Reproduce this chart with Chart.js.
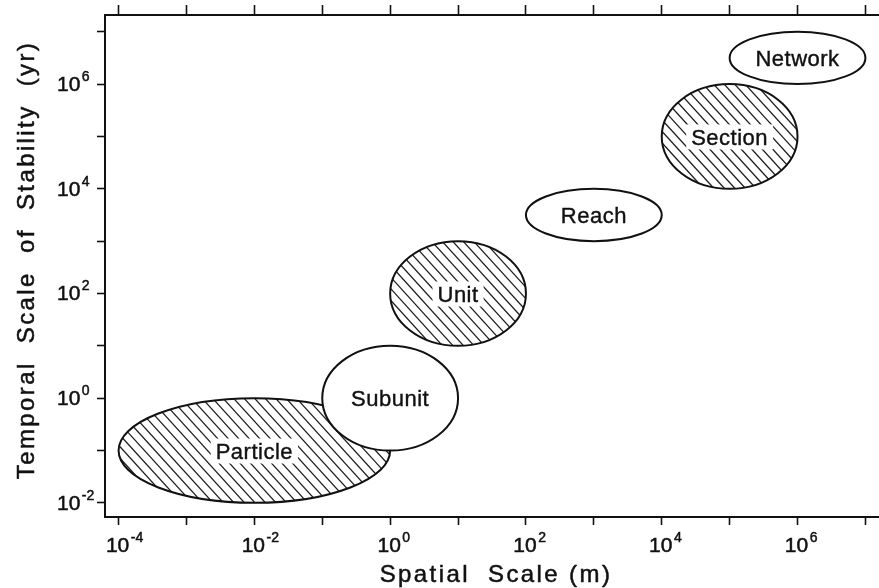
<!DOCTYPE html>
<html lang="en">
<head>
    <meta charset="UTF-8">
    <title>Spatial and Temporal Scale</title>
    <script src="https://cdn.jsdelivr.net/npm/chart.js"></script>
    <style>
        body {
            margin: 0;
            background: #ffffff;
        }
        #wrap {
            width: 879px;
            height: 588px;
        }
    </style>
</head>
<body>

<div id="wrap">
    <canvas id="scaleChart" width="879" height="588"></canvas>
</div>

<script>
    // zones, bounds in metres (space) and years (time)
    const zoneNames = ['Particle', 'Subunit', 'Unit', 'Reach', 'Section', 'Network'];
    const spaceMin = [1e-4, 1e-1, 1e0, 1e2, 1e4, 1e5];
    const spaceMax = [1e0, 1e1, 1e2, 1e4, 1e6, 1e7];
    const timeMin = [1e-2, 1e-1, 1e1, 1e3, 1e4, 1e6];
    const timeMax = [1e0, 1e1, 1e3, 1e4, 1e6, 1e7];
    const hatched = [true, false, true, false, true, false];

    // decade ticks and labelled exponents
    const xDecades = [-4, -3, -2, -1, 0, 1, 2, 3, 4, 5, 6, 7];
    const yDecades = [-2, -1, 0, 1, 2, 3, 4, 5, 6, 7];
    const xTickExps = [-4, -2, 0, 2, 4, 6];
    const yTickExps = [-2, 0, 2, 4, 6];

    const xTitle = 'Spatial  Scale (m)';
    const yTitle = 'Temporal  Scale  of  Stability  (yr)';

    const ink = '#111111';
    const font = '"Liberation Sans", Arial, Helvetica, sans-serif';

    function decadeTicks(list) {
        return function(scale) {
            scale.ticks = list.map(function(e) { return { value: Math.pow(10, e) }; });
        };
    }

    function axisGrid(len) {
        return {
            drawOnChartArea: false,
            drawTicks: true,
            tickLength: len,
            tickWidth: 1.6,
            tickColor: ink
        };
    }

    // text with a thin outline, a bit heavier like the printed figure
    function inkText(ctx, s, x, y) {
        ctx.fillText(s, x, y);
        ctx.strokeText(s, x, y);
    }

    function supLabel(ctx, base, exp, x, y, align) {
        ctx.font = '21px ' + font;
        const w1 = ctx.measureText(base).width;
        let x0 = x;
        if (align === 'center') x0 = x - w1 / 2;
        ctx.textBaseline = 'middle';
        ctx.textAlign = 'left';
        inkText(ctx, base, x0, y);
        ctx.font = '14px ' + font;
        inkText(ctx, exp, x0 + w1 + 1.5, y - 8);
    }

    // draws the ellipses, labels, tick labels and titles
    const zonePlugin = {
        id: 'zones',
        afterDraw: function(chart) {
            const ctx = chart.ctx;
            const xs = chart.scales.x;
            const ys = chart.scales.y;

            for (let i = 0; i < zoneNames.length; i++) {
                const x1 = xs.getPixelForValue(spaceMin[i]);
                const x2 = xs.getPixelForValue(spaceMax[i]);
                const y1 = ys.getPixelForValue(timeMax[i]);
                const y2 = ys.getPixelForValue(timeMin[i]);
                const cx = (x1 + x2) / 2, cy = (y1 + y2) / 2;
                const rx = (x2 - x1) / 2, ry = (y2 - y1) / 2;

                ctx.save();
                ctx.beginPath();
                ctx.ellipse(cx, cy, rx, ry, 0, 0, Math.PI * 2);
                ctx.fillStyle = '#ffffff';
                ctx.fill();

                ctx.font = '22px ' + font;
                ctx.letterSpacing = '0.5px';
                const tw = ctx.measureText(zoneNames[i]).width;

                if (hatched[i]) {
                    ctx.save();
                    ctx.clip();
                    ctx.strokeStyle = '#1e1e1e';
                    ctx.lineWidth = 1.3;
                    const slope = 1.1;
                    const step = 10.5;
                    const h = y2 - y1;
                    for (let sx = x1 - h / slope - step; sx < x2 + step; sx += step) {
                        ctx.beginPath();
                        ctx.moveTo(sx, y1);
                        ctx.lineTo(sx + h / slope, y2);
                        ctx.stroke();
                    }
                    ctx.fillStyle = '#ffffff';
                    ctx.fillRect(cx - tw / 2 - 5, cy - 12, tw + 10, 25);
                    ctx.restore();
                }

                ctx.beginPath();
                ctx.ellipse(cx, cy, rx, ry, 0, 0, Math.PI * 2);
                ctx.lineWidth = 2;
                ctx.strokeStyle = ink;
                ctx.stroke();

                ctx.fillStyle = ink;
                ctx.lineWidth = 0.4;
                ctx.textAlign = 'center';
                ctx.textBaseline = 'middle';
                inkText(ctx, zoneNames[i], cx, cy + 2);
                ctx.restore();
            }

            // tick labels with superscript exponents
            ctx.save();
            ctx.fillStyle = ink;
            ctx.strokeStyle = ink;
            ctx.lineWidth = 0.5;
            xTickExps.forEach(function(e) {
                const px = xs.getPixelForValue(Math.pow(10, e));
                supLabel(ctx, '10', String(e), px - 1, xs.top + 29, 'center');
            });
            yTickExps.forEach(function(e) {
                const py = ys.getPixelForValue(Math.pow(10, e));
                supLabel(ctx, '10', String(e), 57, py + 1, 'left');
            });

            // axis titles
            ctx.font = '24px ' + font;
            ctx.letterSpacing = '2.4px';
            ctx.textAlign = 'center';
            ctx.textBaseline = 'alphabetic';
            inkText(ctx, xTitle, 496, 582);

            ctx.translate(34, 260);
            ctx.rotate(-Math.PI / 2);
            inkText(ctx, yTitle, 0, 0);
            ctx.restore();
        }
    };

    const lo = { x: Math.pow(10, -4.2), y: Math.pow(10, -2.27) };
    const hi = { x: Math.pow(10, 7.2), y: Math.pow(10, 7.32) };

    new Chart(document.getElementById('scaleChart').getContext('2d'), {
        type: 'scatter',
        data: {
            datasets: [{
                data: zoneNames.map(function(n, i) {
                    return { x: spaceMin[i], y: timeMin[i] };
                }),
                pointRadius: 0,
                pointHoverRadius: 0
            }]
        },
        options: {
            responsive: false,
            animation: false,
            events: [],
            layout: { padding: 0 },
            plugins: {
                legend: { display: false },
                tooltip: { enabled: false }
            },
            scales: {
                x: {
                    type: 'logarithmic',
                    position: 'bottom',
                    bounds: 'data',
                    min: lo.x,
                    max: hi.x,
                    afterBuildTicks: decadeTicks(xDecades),
                    afterFit: function(s) { s.height = 71; },
                    ticks: { display: false },
                    grid: axisGrid(8),
                    border: { display: true, color: ink, width: 2 }
                },
                xTop: {
                    type: 'logarithmic',
                    position: 'top',
                    bounds: 'data',
                    min: lo.x,
                    max: hi.x,
                    afterBuildTicks: decadeTicks(xDecades),
                    afterFit: function(s) { s.height = 15; },
                    ticks: { display: false },
                    grid: axisGrid(10),
                    border: { display: true, color: ink, width: 2 }
                },
                y: {
                    type: 'logarithmic',
                    position: 'left',
                    bounds: 'data',
                    min: lo.y,
                    max: hi.y,
                    afterBuildTicks: decadeTicks(yDecades),
                    afterFit: function(s) { s.width = 105; },
                    ticks: { display: false },
                    grid: axisGrid(8),
                    border: { display: true, color: ink, width: 2 }
                }
            }
        },
        plugins: [zonePlugin]
    });
</script>

</body>
</html>
